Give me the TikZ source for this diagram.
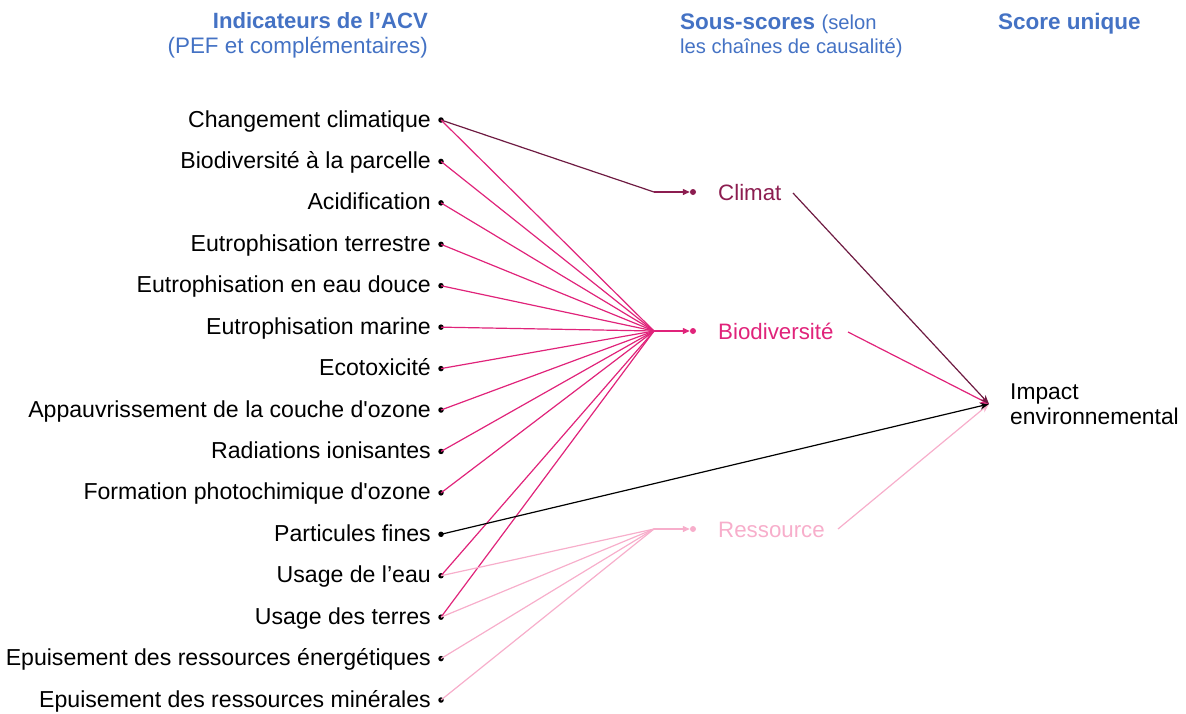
\documentclass[tikz,border=0pt]{standalone}
\usepackage{fontspec}
\setmainfont{Liberation Sans}[Ligatures=TeXOff]
\usetikzlibrary{arrows.meta}
\definecolor{hdrblue}{HTML}{4472C4}
\definecolor{climline}{HTML}{6E1B42}
\definecolor{climtext}{HTML}{8C1D50}
\definecolor{biodiv}{HTML}{E0237A}
\definecolor{ressource}{HTML}{F7AECB}
\begin{document}
\begin{tikzpicture}[x=1pt,y=-1pt,
  every node/.style={inner sep=0pt, font=\fontsize{22.8}{26}\selectfont},
  header/.style={text=hdrblue, align=left},
  hbold/.style={header, font=\fontsize{22.5}{26}\selectfont\bfseries},
  hplain/.style={header, font=\fontsize{22.4}{26}\selectfont},
  hsmall/.style={header, font=\fontsize{20.2}{24}\selectfont},
  label/.style={anchor=base east, font=\fontsize{23.1}{26}\selectfont},
  pin dot/.style={circle, fill=black, minimum size=5.5pt},
  sub dot/.style={circle, fill=#1, minimum size=6pt},
  subname/.style={anchor=base west, text=#1, font=\fontsize{22.3}{26}\selectfont},
  link/.style={draw=#1, line width=1.2pt},
  feed/.style={draw=#1, line width=1.2pt, -{Triangle[length=7pt,width=6pt]}},
  score/.style={draw=#1, line width=1.2pt, -{Stealth[length=9pt,width=7pt]}}
]
\useasboundingbox (0,0) rectangle (1186,713);

% column headers
\node[hbold, anchor=base east, font=\fontsize{22.1}{26}\selectfont\bfseries] (h1a) at (428,28) {Indicateurs de l’ACV};
\node[hplain, anchor=base east] (h1b) at (428,53) {(PEF et complémentaires)};
\node[hbold, anchor=base west] (h2a) at (680,29) {Sous-scores};
\node[hsmall, anchor=base west] (h2c) at ([xshift=6pt]h2a.base east) {(selon};
\node[hsmall, anchor=base west] (h2b) at (680,53) {les chaînes de causalité)};
\node[hbold, anchor=base west] (h3) at (998,29) {Score unique};

% LCA indicators with their connection points
\foreach \t [count=\i from 0] in {
  Changement climatique,
  Biodiversité à la parcelle,
  Acidification,
  Eutrophisation terrestre,
  Eutrophisation en eau douce,
  Eutrophisation marine,
  Ecotoxicité,
  Appauvrissement de la couche d'ozone,
  Radiations ionisantes,
  Formation photochimique d'ozone,
  Particules fines,
  Usage de l’eau,
  Usage des terres,
  Epuisement des ressources énergétiques,
  Epuisement des ressources minérales}
{
  \pgfmathsetmacro{\yy}{120+41.43*\i}
  \node[label] (l\i) at (431,\yy+7) {\t};
  \node[pin dot] (d\i) at (441,\yy) {};
}

% sub-score bundling points
\coordinate (jC) at (654,192);
\coordinate (jB) at (654,331);
\coordinate (jR) at (654,529);

% sub-scores
\node[sub dot=climtext] (cC) at (693,192) {};
\node[sub dot=biodiv] (cB) at (693,331) {};
\node[sub dot=ressource] (cR) at (693,529) {};
\node[subname=climtext] (sC) at (718,200) {Climat};
\node[subname=biodiv] (sB) at (718,339) {Biodiversité};
\node[subname=ressource] (sR) at (718,537) {Ressource};

% single score
\node[anchor=base west] (imp1) at (1010,399) {Impact};
\node[anchor=base west] (imp2) at (1010,424) {environnemental};
\coordinate (T) at (989,404);

% outgoing ends of the sub-score links
\coordinate (oC) at (793,193);
\coordinate (oB) at (848,332);
\coordinate (oR) at (838,529);

% indicators -> sub-scores
\draw[link=climline] (d0.center) -- (jC);
\foreach \i in {0,...,9,11,12}
  \draw[link=biodiv] (d\i.center) -- (jB);
\foreach \i in {11,...,14}
  \draw[link=ressource] (d\i.center) -- (jR);

\draw[feed=climtext] (jC) -- (cC.west);
\draw[feed=biodiv] (jB) -- (cB.west);
\draw[feed=ressource] (jR) -- (cR.west);

% sub-scores -> single score
\draw[score=ressource] (oR) -- (T);
\draw[score=black] (d10.center) -- (T);
\draw[score=biodiv] (oB) -- (T);
\draw[score=climline] (oC) -- (T);
\end{tikzpicture}
\end{document}
